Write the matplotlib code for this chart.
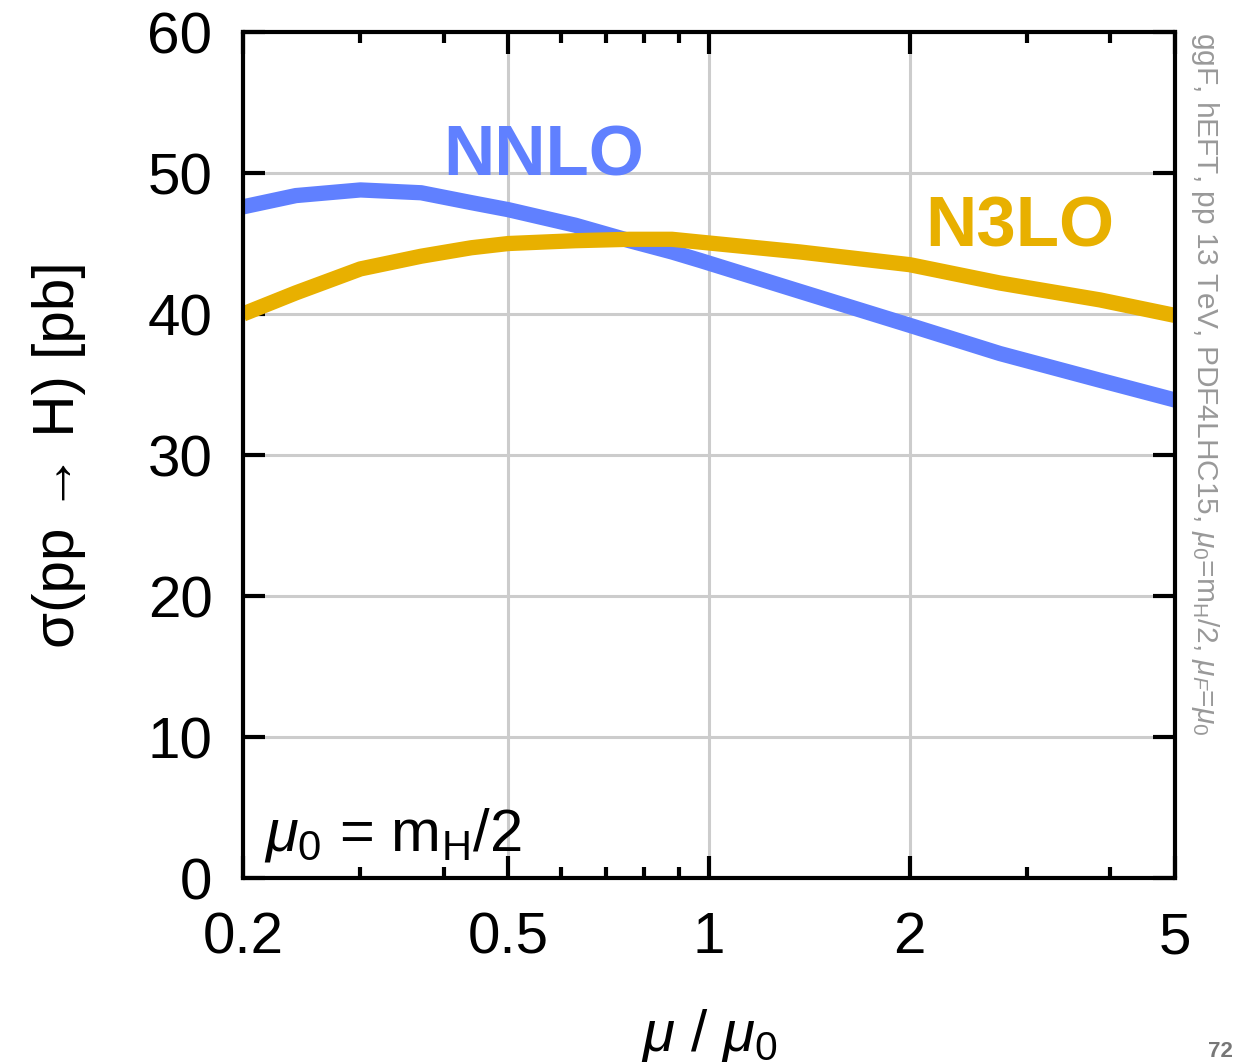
import matplotlib
matplotlib.use('Agg')
import matplotlib.pyplot as plt
from matplotlib.ticker import FixedLocator, NullFormatter, FixedFormatter

# scale ratio mu/mu0 and cross sections [pb]
nnlo_x = [0.2, 0.24, 0.3, 0.37, 0.44, 0.5, 0.63, 0.76, 0.88, 0.97, 1.37, 2.0, 2.73, 3.86, 5.0]
nnlo_y = [47.6, 48.4, 48.8, 48.6, 47.9, 47.4, 46.3, 45.2, 44.4, 43.8, 41.6, 39.2, 37.2, 35.3, 33.9]

n3lo_x = [0.2, 0.24, 0.3, 0.37, 0.44, 0.5, 0.63, 0.76, 0.88, 0.97, 1.37, 2.0, 2.73, 3.86, 5.0]
n3lo_y = [40.0, 41.5, 43.2, 44.1, 44.7, 45.0, 45.2, 45.3, 45.3, 45.1, 44.4, 43.5, 42.2, 41.0, 39.9]

x_major = [0.2, 0.5, 1, 2, 5]
x_major_labels = ['0.2', '0.5', '1', '2', '5']
x_minor = [0.3, 0.4, 0.6, 0.7, 0.8, 0.9, 3, 4]
y_major = [0, 10, 20, 30, 40, 50, 60]

blue = '#6080ff'
gold = '#e8b000'

plt.rcParams['font.family'] = ['Liberation Sans', 'DejaVu Sans']
plt.rcParams['mathtext.fontset'] = 'custom'
plt.rcParams['mathtext.rm'] = 'Liberation Sans'
plt.rcParams['mathtext.it'] = 'Liberation Sans:italic'

fig = plt.figure(figsize=(12.35, 10.64), dpi=100)
ax = fig.add_axes([0.1968, 0.1748, 0.7546, 0.7951])

ax.plot(nnlo_x, nnlo_y, color=blue, lw=11, solid_capstyle='butt',
        solid_joinstyle='round', zorder=3)
ax.plot(n3lo_x, n3lo_y, color=gold, lw=11, solid_capstyle='butt',
        solid_joinstyle='round', zorder=3)

ax.set_xscale('log')
ax.set_xlim(0.2, 5)
ax.set_ylim(0, 60)
ax.xaxis.set_major_locator(FixedLocator(x_major))
ax.xaxis.set_major_formatter(FixedFormatter(x_major_labels))
ax.xaxis.set_minor_locator(FixedLocator(x_minor))
ax.xaxis.set_minor_formatter(NullFormatter())
ax.yaxis.set_major_locator(FixedLocator(y_major))

ax.grid(True, which='major', color='#cccccc', lw=2.2, zorder=0)
for s in ax.spines.values():
    s.set_linewidth(3)
    s.set_zorder(5)

ax.tick_params(which='both', direction='in', top=True, right=True, width=3, labelsize=42)
ax.tick_params(which='major', length=16)
ax.tick_params(which='minor', length=8)
ax.tick_params(axis='x', pad=24)
ax.tick_params(axis='y', pad=22)

ax.set_xlabel(r'$\mu$ / $\mu_0$', fontsize=42, labelpad=30)
ax.set_ylabel('σ(pp → H) [pb]', fontsize=42, labelpad=44)

ax.text(0.40, 51.1, 'NNLO', color=blue, fontsize=51, fontweight='bold',
        ha='left', va='center', zorder=4)
ax.text(2.11, 46.1, 'N3LO', color=gold, fontsize=51, fontweight='bold',
        ha='left', va='center', zorder=4)
ax.text(0.215, 1.0, r'$\mu_0$ = m$_{\rm H}$/2', fontsize=43, ha='left', va='bottom', zorder=4)

fig.text(0.976, 0.97, 'ggF, hEFT, pp 13 TeV, PDF4LHC15, $\\mu_0$=m$_{\\rm H}$/2, $\\mu_F$=$\\mu_0$',
         rotation=-90, fontsize=21.5, color='#999999', ha='center', va='top')
fig.text(0.978, 0.002, '72', fontsize=16, color='#777777', fontweight='bold', ha='left', va='bottom')

fig.savefig('out.png', dpi=100)
